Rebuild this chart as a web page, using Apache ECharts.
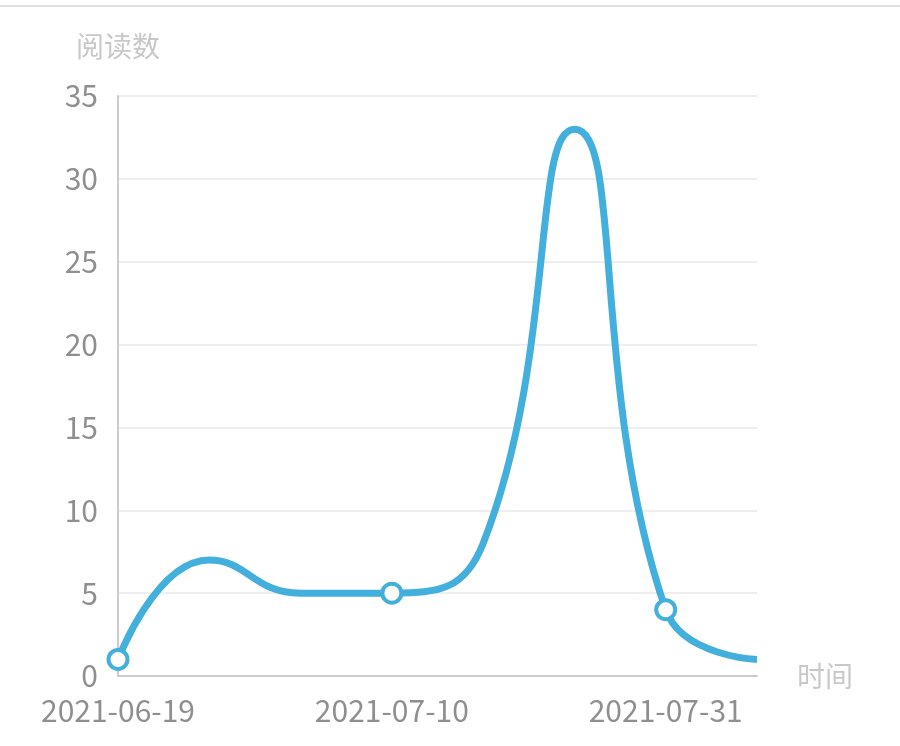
<!DOCTYPE html>
<html>
<head>
<meta charset="utf-8">
<style>
  html, body { margin: 0; padding: 0; background: #fff; }
  #topline { position: absolute; left: 0; top: 5px; width: 900px; height: 2px; background: #e0e0e0; }
  #main { width: 900px; height: 746px; }
</style>
<script src="https://cdn.jsdelivr.net/npm/echarts@6/dist/echarts.min.js"></script>
</head>
<body>
<div id="topline"></div>
<div id="main"></div>
<script>
// 横轴日期（每周一个点）
var dates = ['2021-06-19', '2021-06-26', '2021-07-03', '2021-07-10', '2021-07-17', '2021-07-24', '2021-07-31', '2021-08-07']
// 阅读数
var reads = [1, 7, 5, 5, 8, 33, 4, 1]

var chart = echarts.init(document.getElementById('main'))
var font = '"Noto Sans CJK SC", sans-serif'

var option = {
  grid: { left: 118, right: 143, top: 96, bottom: 70 },
  xAxis: {
    type: 'category',
    data: dates,
    boundaryGap: false,
    name: '时间',
    nameGap: 40,
    nameTextStyle: { color: '#c8c8c8', fontSize: 28, fontFamily: font, verticalAlign: 'middle' },
    axisLine: { lineStyle: { color: '#cccccc', width: 2 } },
    axisTick: { show: false },
    axisLabel: { interval: 2, color: '#8f8f8f', fontSize: 30, fontFamily: font, margin: 20 }
  },
  yAxis: {
    type: 'value',
    min: 0,
    max: 35,
    interval: 5,
    name: '阅读数',
    nameGap: 36,
    nameTextStyle: { color: '#c8c8c8', fontSize: 28, fontFamily: font },
    axisLine: { show: true, lineStyle: { color: '#cccccc', width: 2 } },
    axisTick: { show: false },
    axisLabel: { color: '#8f8f8f', fontSize: 30, fontFamily: font, margin: 20 },
    splitLine: { lineStyle: { color: '#eeeeee', width: 2 } }
  },
  series: [{
    type: 'line',
    data: reads,
    smooth: true,
    // 只在有标签的日期处画圆点
    symbol: function (value, params) {
      return params.dataIndex % 3 === 0 ? 'circle' : 'none'
    },
    symbolSize: 19,
    showAllSymbol: true,
    lineStyle: { color: '#42afdc', width: 7 },
    itemStyle: { color: '#ffffff', borderColor: '#42afdc', borderWidth: 4 }
  }]
}
chart.setOption(option)
</script>
</body>
</html>
